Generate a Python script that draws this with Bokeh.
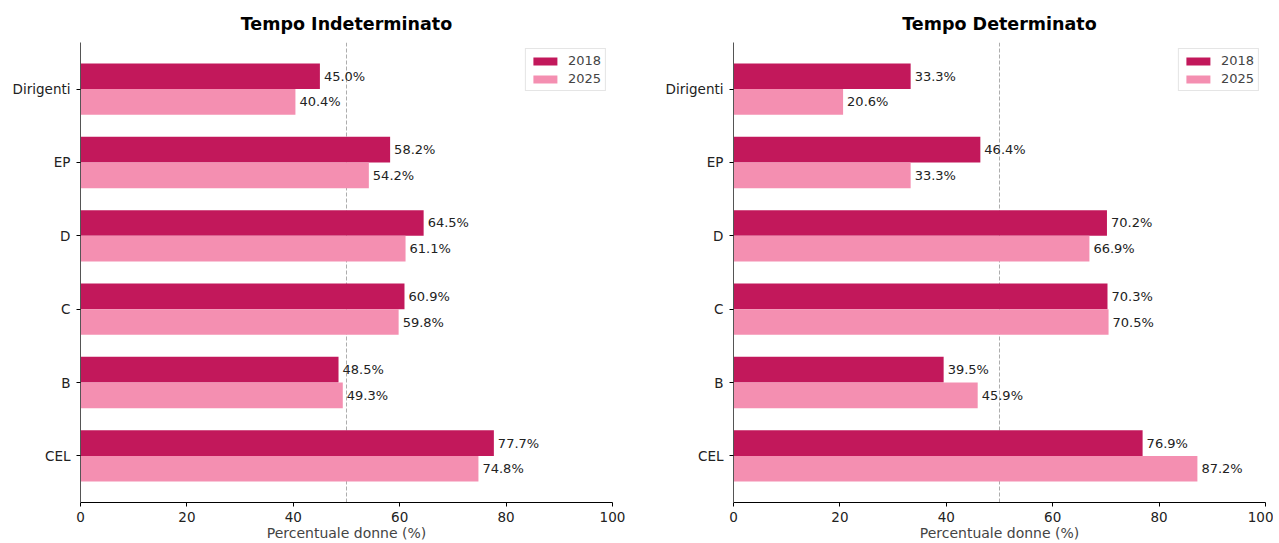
from bokeh.plotting import figure
from bokeh.models import (ColumnDataSource, Range1d, FixedTicker, Span, Legend,
                          LegendItem)
from bokeh.layouts import row
from bokeh.embed import file_html
from bokeh.resources import INLINE

categories = ["CEL", "B", "C", "D", "EP", "Dirigenti"]  # bottom to top
years = ["2018", "2025"]

ind_2018 = [77.7, 48.5, 60.9, 64.5, 58.2, 45.0]
ind_2025 = [74.8, 49.3, 59.8, 61.1, 54.2, 40.4]
det_2018 = [76.9, 39.5, 70.3, 70.2, 46.4, 33.3]
det_2025 = [87.2, 45.9, 70.5, 66.9, 33.3, 20.6]

x_ticks = [0, 20, 40, 60, 80, 100]
titles = ["Tempo Indeterminato", "Tempo Determinato"]
x_label = "Percentuale donne (%)"

C2018 = "#C2185B"
C2025 = "#F48FB1"
FONT = "DejaVu Sans"
BAR_H = 0.35


def make_panel(title, v2018, v2025, left_border, width):
    p = figure(width=width, height=543, output_backend="svg", toolbar_location=None,
               x_range=Range1d(0, 100), y_range=Range1d(-0.635, 5.635),
               min_border_left=left_border, min_border_right=width - left_border - 532,
               min_border_top=42, min_border_bottom=40)
    p.title.text = title
    p.title.align = "center"
    p.title.text_font = FONT
    p.title.text_font_size = "17.5px"
    p.title.text_font_style = "bold"
    p.title.text_color = "black"
    p.title.standoff = 18
    p.outline_line_color = None
    p.xgrid.visible = False
    p.ygrid.visible = False

    pos = list(range(len(categories)))
    src = ColumnDataSource(dict(
        y1=[i + BAR_H / 2 for i in pos], y2=[i - BAR_H / 2 for i in pos],
        v1=v2018, v2=v2025,
        t1=[f"{v:.1f}%" for v in v2018], t2=[f"{v:.1f}%" for v in v2025]))

    span = Span(location=50, dimension="height", line_color="#999999",
                line_alpha=0.8, line_dash="4 2", line_width=1, level="underlay")
    p.add_layout(span)

    r1 = p.hbar(y="y1", right="v1", left=0, height=BAR_H, source=src,
                fill_color=C2018, line_color=None)
    r2 = p.hbar(y="y2", right="v2", left=0, height=BAR_H, source=src,
                fill_color=C2025, line_color=None)
    for ycol, vcol, tcol in (("y1", "v1", "t1"), ("y2", "v2", "t2")):
        p.text(x=vcol, y=ycol, text=tcol, source=src, x_offset=4,
               text_baseline="middle", text_align="left",
               text_font={"value": FONT}, text_font_size="13px", text_color="#222222")

    legend = Legend(items=[LegendItem(label=years[0], renderers=[r1]),
                           LegendItem(label=years[1], renderers=[r2])],
                    location="top_right", margin=6, padding=4, spacing=3,
                    glyph_width=30, glyph_height=10, label_height=12,
                    label_standoff=8, label_text_font=FONT,
                    label_text_font_size="13px", border_line_color="#cccccc",
                    border_line_width=1, background_fill_alpha=0.9)
    p.add_layout(legend)

    p.xaxis.ticker = FixedTicker(ticks=x_ticks)
    p.xaxis.axis_label = x_label
    p.xaxis.axis_label_text_font = FONT
    p.xaxis.axis_label_text_font_size = "14px"
    p.xaxis.axis_label_text_font_style = "normal"
    p.xaxis.axis_label_standoff = 0
    p.xaxis.major_label_standoff = 5
    p.xaxis.major_tick_out = 4
    p.xaxis.major_tick_in = 0
    p.xaxis.minor_tick_line_color = None
    p.xaxis.axis_line_color = "black"

    p.yaxis.ticker = FixedTicker(ticks=pos)
    p.yaxis.major_label_overrides = {i: c for i, c in zip(pos, categories)}
    p.yaxis.major_tick_out = 4
    p.yaxis.major_tick_in = 0
    p.yaxis.minor_tick_line_color = None
    p.yaxis.major_label_standoff = 6
    p.yaxis.axis_line_color = "#555555"

    for ax in (p.xaxis, p.yaxis):
        ax.major_label_text_font = FONT
        ax.major_label_text_font_size = "13.5px"
        ax.major_label_text_color = "#222222"
    return p


p1 = make_panel(titles[0], ind_2018, ind_2025, 80, 660)
p2 = make_panel(titles[1], det_2018, det_2025, 73, 613)
layout = row(p1, p2)

open("out.html", "w").write(file_html(layout, INLINE))
